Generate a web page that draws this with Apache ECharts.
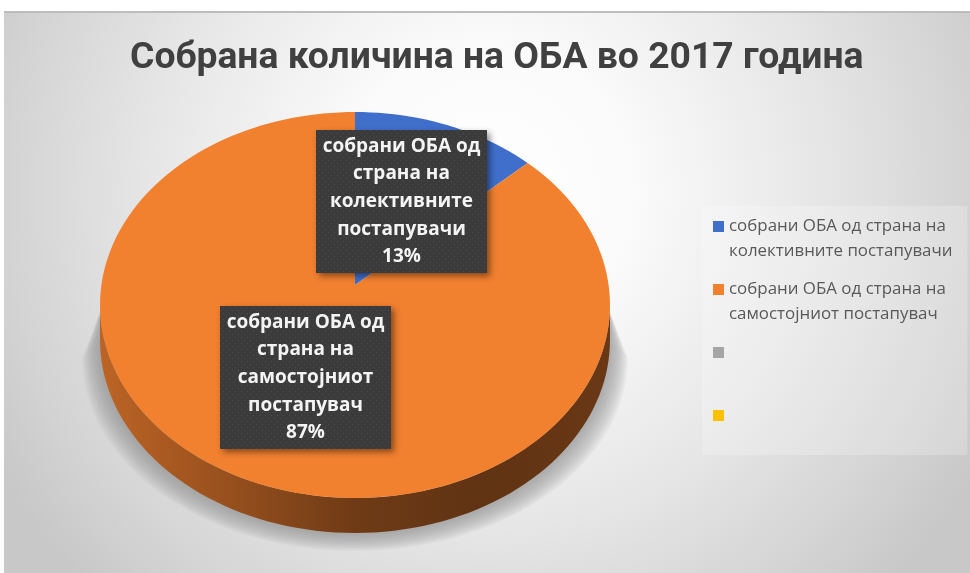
<!DOCTYPE html>
<html>
<head>
<meta charset="utf-8">
<style>html,body{margin:0;padding:0;background:#fff}#c{width:970px;height:573px}</style>
<script src="https://cdn.jsdelivr.net/npm/echarts@6/dist/echarts.min.js"></script>
</head>
<body>
<div id="c"></div>
<script>
var titleText = 'Собрана количина на ОБА во 2017 година';
var categories = ['собрани ОБА од страна на\nколективните постапувачи', 'собрани ОБА од страна на\nсамостојниот постапувач', ' ', '  '];
var values = [13, 87, 0, 0];
var colors = ['#3F6FCB', '#F1802F', '#A5A5A5', '#FFC000'];
var labelLines = [
  ['собрани ОБА од', 'страна на', 'колективните', 'постапувачи'],
  ['собрани ОБА од', 'страна на', 'самостојниот', 'постапувач']
];

var FONT = '"Open Sans", "Noto Sans", sans-serif';
var labelBoxes = [[316, 130, 171, 143], [220, 306, 171, 143]];
var P = {cx: 355, cy: 285, a: 190.9, b: 253.6, k: 0.1036, depth: 35};
var total = values.reduce(function (s, v) { return s + v; }, 0);

function project(deg, dy, sx) {
  var t = deg * Math.PI / 180, w = 1 + P.k * Math.cos(t);
  return [P.cx + (sx || 1) * P.b * Math.sin(t) / w, P.cy + (dy || 0) - P.a * Math.cos(t) / w];
}
function arc(from, to, dy, sx) {
  var pts = [], n = Math.max(2, Math.ceil(Math.abs(to - from) / 2));
  for (var i = 0; i <= n; i++) pts.push(project(from + (to - from) * i / n, dy, sx));
  return pts;
}
function shade(color, f) {
  var c = echarts.color.parse(color);
  return 'rgb(' + Math.round(c[0] * f) + ',' + Math.round(c[1] * f) + ',' + Math.round(c[2] * f) + ')';
}
var dotCanvas = document.createElement('canvas');
dotCanvas.width = dotCanvas.height = 6;
(function () {
  var g = dotCanvas.getContext('2d');
  g.fillStyle = '#3b3b3b'; g.fillRect(0, 0, 6, 6);
  g.fillStyle = '#4c4c4c'; g.fillRect(1, 1, 1, 1); g.fillRect(4, 4, 1, 1);
})();
var FRONT_L = 96, FRONT_R = 264, SHADOW_LAYERS = 12;

function makeRender(index) {
  return function (params, api) {
    var v = values[index];
    if (!v) return {type: 'group', children: []};
    var before = values.slice(0, index).reduce(function (s, x) { return s + x; }, 0);
    var start = before / total * 360, end = (before + v) / total * 360;
    var color = colors[index], children = [];
    var sStart = Math.max(start, FRONT_L), sEnd = Math.min(end, FRONT_R);
    if (sEnd > sStart) {
      for (var i = SHADOW_LAYERS; i >= 1; i--) {
        var f = i / SHADOW_LAYERS;
        children.push({type: 'polygon', z2: 0, silent: true,
          shape: {points: arc(sEnd, sStart, P.depth + 18 * f, 1 + 0.07 * f).concat(arc(sStart, sEnd, 0, 0.99))},
          style: {fill: 'rgba(140,140,140,0.08)'}});
      }
      children.push({type: 'polygon', z2: 1, silent: true,
        shape: {points: arc(sStart, sEnd, 0).concat(arc(sEnd, sStart, P.depth))},
        style: {fill: {type: 'linear', x: 0, y: 0, x2: 1, y2: 0, colorStops: [
          {offset: 0, color: shade(color, 0.78)},
          {offset: 0.2, color: shade(color, 0.66)},
          {offset: 0.5, color: shade(color, 0.46)},
          {offset: 0.75, color: shade(color, 0.4)},
          {offset: 1, color: shade(color, 0.44)}
        ]}}});
    }
    children.push({type: 'polygon', z2: 5,
      shape: {points: [[P.cx, P.cy]].concat(arc(start, end))},
      style: {fill: color}});
    var box = labelBoxes[index];
    if (box) {
      children.push({type: 'rect', z2: 10, silent: true,
        shape: {x: box[0], y: box[1], width: box[2], height: box[3]},
        style: {fill: {image: dotCanvas, repeat: 'repeat'}, shadowBlur: 6, shadowOffsetX: 3, shadowOffsetY: 3, shadowColor: 'rgba(0,0,0,0.45)'}});
      children.push({type: 'text', z2: 11, silent: true,
        x: box[0] + box[2] / 2, y: box[1] + box[3] / 2,
        style: {text: labelLines[index].concat(Math.round(v / total * 100) + '%').join('\n'),
          fill: '#f4f4f4', font: 'bold 19px ' + FONT, lineHeight: 27.7, align: 'center', verticalAlign: 'middle'}});
    }
    return {type: 'group', children: children};
  };
}

var chart = echarts.init(document.getElementById('c'), null, {renderer: 'canvas'});
chart.setOption({
  animation: false,
  backgroundColor: '#ffffff',
  title: {text: titleText, left: 125, top: 35,
    textStyle: {color: '#404040', fontFamily: 'Roboto, "Open Sans", sans-serif', fontWeight: 'bold', fontSize: 37.3}},
  legend: {
    orient: 'vertical', left: 702, top: 206,
    padding: [8, 15, 2, 11], itemGap: 13, itemWidth: 11, itemHeight: 50,
    backgroundColor: 'rgba(255,255,255,0.22)',
    selectedMode: false,
    data: categories.map(function (name) {
      return {name: name, icon: 'path://M5 0L5.01 0Z M0 7H11V18H0Z M5 50L5.01 50Z'};
    }),
    textStyle: {color: '#595959', fontFamily: FONT, fontSize: 16.9, lineHeight: 25}
  },
  graphic: [
    {type: 'rect', z: -10, silent: true, shape: {x: 4, y: 12, width: 966, height: 561},
      style: {fill: {type: 'radial', x: 0.5, y: 0.32, r: 1.0, colorStops: [
        {offset: 0, color: '#ffffff'}, {offset: 0.25, color: '#fbfbfb'}, {offset: 0.6, color: '#e6e6e6'},
        {offset: 0.85, color: '#d4d4d4'}, {offset: 1, color: '#c8c8c8'}]}}},
    {type: 'rect', z: -9, silent: true, shape: {x: 4, y: 11, width: 966, height: 2}, style: {fill: '#bdbdbd'}}
  ],
  series: categories.map(function (name, i) {
    return {
      type: 'custom', name: name, coordinateSystem: 'none',
      itemStyle: {color: colors[i]},
      data: [[values[i]]],
      renderItem: makeRender(i)
    };
  })
});
</script>
</body>
</html>
